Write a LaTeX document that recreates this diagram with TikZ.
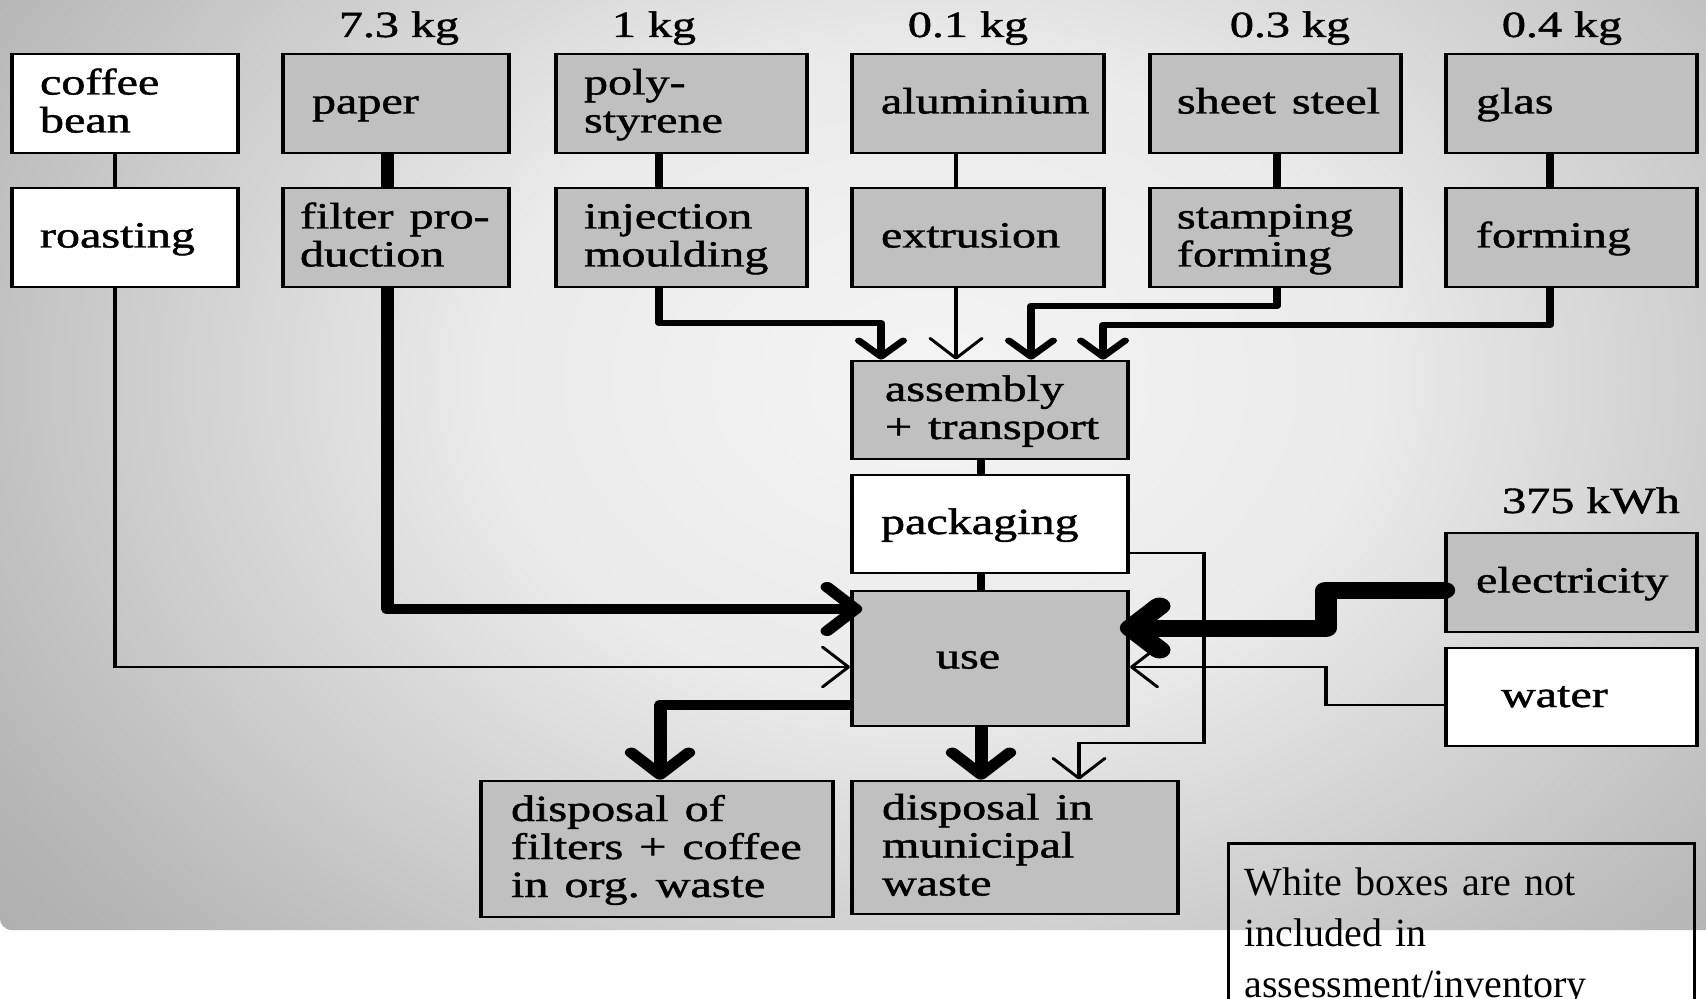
\documentclass[tikz,border=0pt]{standalone}
\usepackage{fontspec}
\usetikzlibrary{arrows.meta,calc}
\newfontfamily\dfont[HyphenChar=None, FakeBold=1.1]{Liberation Serif}
\newfontfamily\lfont{Liberation Serif}
\definecolor{boxgray}{HTML}{C0C0C0}
\definecolor{bgA}{HTML}{F4F4F4}
\definecolor{bgB}{HTML}{EBEBEB}
\definecolor{bgC}{HTML}{B4B4B4}
\definecolor{bgD}{HTML}{A0A0A0}
\pgfdeclareradialshading{bgshade}{\pgfpoint{0bp}{0bp}}{color(0bp)=(bgA); color(10bp)=(bgB); color(25bp)=(bgC); color(36bp)=(bgD); color(50bp)=(bgD)}
\newcommand\mystrut{\rule[-4.5pt]{0pt}{19pt}}
\tikzset{
  gbox/.style={draw=black, line width=1.4pt, fill=boxgray, align=left, inner ysep=0pt,
    font=\dfont\fontsize{18.5pt}{19pt}\selectfont,
    execute at begin node=\mystrut, execute at end node=\mystrut},
  wbox/.style={gbox, fill=white},
  sz/.style n args={4}{minimum width=#1, minimum height=#2, inner xsep=#3, text width=#4},
  lbl/.style={anchor=base, inner sep=0pt, font=\dfont\fontsize{18.5pt}{19pt}\selectfont},
  thinln/.style={line width=1.3pt},
  medln/.style={line width=3pt, line join=round},
  thickln/.style={line width=5pt, line join=round},
  thinarr/.style={thinln, -{Straight Barb[length=10pt,width=20pt,round]}},
  medarr/.style={medln, -{Straight Barb[length=8pt,width=17pt,round]}},
  thickarr/.style={thickln, -{Straight Barb[length=11pt,width=22pt,round]}},
  elecarr/.style={line width=8.5pt, line join=round, line cap=round, -{Straight Barb[length=11pt,width=22pt,round]}},
  legendbox/.style={draw=black, line width=1.5pt, anchor=north west, align=left,
    inner xsep=8pt, inner ysep=12pt, text width=217pt,
    font=\lfont\fontsize{20pt}{25.5pt}\selectfont}
}
\begin{document}
\begin{tikzpicture}[x=0.5pt, y=-0.5pt]
\useasboundingbox (0,0) rectangle (1706,999);
\fill[white] (0,0) rectangle (1706,999);
% background
\begin{scope}
  \clip (0,0) -- (1706,0) -- (1706,930) -- (12,930) arc[start angle=90, end angle=180, radius=12] -- cycle;
  \fill[bgD] (0,0) rectangle (1706,930);
  \shade[shading=bgshade] (-170,-420) rectangle (2030,1180);
\end{scope}
% legend (not stretched)
\node[legendbox] (legend) at (1227,842) {White boxes are not\\included in\\assessment/inventory};
% main diagram, horizontally stretched
\begin{scope}[transform canvas={xscale=1.3}, x=0.384615pt, y=-0.5pt]
  % row 1
  \node[wbox, sz={86.92pt}{49.5pt}{10.77pt}{65.38pt}] (coffee) at (125,103.5) {coffee\\bean};
  \node[gbox, sz={86.92pt}{49.5pt}{11.15pt}{64.62pt}] (paper) at (396,103.5) {paper};
  \node[gbox, sz={96.54pt}{49.5pt}{10.77pt}{75pt}] (poly) at (681.5,103.5) {poly-\\styrene};
  \node[gbox, sz={96.92pt}{49.5pt}{11.15pt}{74.62pt}] (alu) at (978,103.5) {aluminium};
  \node[gbox, sz={96.54pt}{49.5pt}{10.38pt}{75.78pt}] (steel) at (1275.5,103.5) {sheet~steel};
  \node[gbox, sz={96.54pt}{49.5pt}{11.54pt}{73.46pt}] (glas) at (1571.5,103.5) {glas};
  % row 2
  \node[wbox, sz={86.92pt}{49.5pt}{10.77pt}{65.38pt}] (roast) at (125,237.5) {roasting};
  \node[gbox, sz={86.92pt}{49.5pt}{6.54pt}{73.84pt}] (filter) at (396,237.5) {filter~pro-\\duction};
  \node[gbox, sz={96.54pt}{49.5pt}{10.77pt}{75pt}] (inj) at (681.5,237.5) {injection\\moulding};
  \node[gbox, sz={96.92pt}{49.5pt}{11.15pt}{74.62pt}] (extr) at (978,237.5) {extrusion};
  \node[gbox, sz={96.54pt}{49.5pt}{10.38pt}{75.78pt}] (stamp) at (1275.5,237.5) {stamping\\forming};
  \node[gbox, sz={96.54pt}{49.5pt}{11.54pt}{73.46pt}] (formg) at (1571.5,237.5) {forming};
  % middle column
  \node[gbox, sz={106.15pt}{49pt}{12.69pt}{80.77pt}] (asm) at (990,410) {assembly\\+~transport};
  \node[wbox, sz={106.15pt}{49pt}{11.15pt}{83.85pt}] (pack) at (990,524) {packaging};
  \node[gbox, sz={106.15pt}{67.5pt}{32.31pt}{41.53pt}] (use) at (990,658.5) {use};
  % right column
  \node[gbox, sz={96.54pt}{49.5pt}{11.54pt}{73.46pt}] (elec) at (1571.5,582.5) {electricity};
  \node[wbox, sz={96.54pt}{49pt}{21.15pt}{54.24pt}] (water) at (1571.5,697) {water};
  % bottom
  \node[gbox, sz={135.38pt}{68pt}{11.54pt}{112.3pt}] (dfil) at (657,849) {disposal~of\\filters~+~coffee\\in~org.~waste};
  \node[gbox, sz={125.38pt}{66.5pt}{11.54pt}{102.3pt}] (dmun) at (1015,847.5) {disposal~in\\municipal\\waste};
  % quantity labels
  \node[lbl] (kg1) at (399,37) {7.3 kg};
  \node[lbl] (kg2) at (654,37) {1 kg};
  \node[lbl] (kg3) at (968,37) {0.1 kg};
  \node[lbl] (kg4) at (1290,37) {0.3 kg};
  \node[lbl] (kg5) at (1562,37) {0.4 kg};
  \node[lbl] (kwh) at (1591,513) {375 kWh};
  % helper coordinates
  \coordinate (xa) at (115,0);
  \coordinate (xb) at (387,0);
  \coordinate (xc) at (659,0);
  \coordinate (xd) at (881,0);
  \coordinate (xe) at (956,0);
  \coordinate (xf) at (1277,0);
  \coordinate (xg) at (1031,0);
  \coordinate (xh) at (1550,0);
  \coordinate (xi) at (1103,0);
  \coordinate (xj) at (981,0);
  \coordinate (xk) at (660,0);
  \coordinate (xm) at (1204,0);
  \coordinate (xn) at (1079,0);
  \coordinate (xp) at (1326,0);
  \coordinate (ya) at (0,667);
  \coordinate (yb) at (0,609);
  \coordinate (yc) at (0,323);
  \coordinate (yf) at (0,306);
  \coordinate (yh) at (0,325);
  \coordinate (yk) at (0,705);
  \coordinate (yl) at (0,553);
  \coordinate (ym) at (0,743);
  \coordinate (yo) at (0,590);
  \coordinate (yp) at (0,628);
  \coordinate (yq) at (0,705);
  \coordinate (filterin) at ($(use.west |- yb)+(12,0)$);
  \coordinate (elecin) at ($(use.east |- yp)+(-10,0)$);
  % connectors
  \draw[thinln] (coffee.south -| xa) -- (roast.north -| xa);
  \draw[thinarr] (roast.south -| xa) |- (use.west |- ya);
  \draw[thickln] (paper.south -| xb) -- (filter.north -| xb);
  \draw[thickarr] (filter.south -| xb) |- (filterin);
  \draw[medln] (poly.south -| xc) -- (inj.north -| xc);
  \draw[medarr] (inj.south -| xc) |- (xd |- yc) -- (asm.north -| xd);
  \draw[thinln] (alu.south -| xe) -- (extr.north -| xe);
  \draw[thinarr] (extr.south -| xe) -- (asm.north -| xe);
  \draw[medln] (steel.south -| xf) -- (stamp.north -| xf);
  \draw[medarr] (stamp.south -| xf) |- (xg |- yf) -- (asm.north -| xg);
  \draw[medln] (glas.south -| xh) -- (formg.north -| xh);
  \draw[medarr] (formg.south -| xh) |- (xi |- yh) -- (asm.north -| xi);
  \draw[medln] (asm.south -| xj) -- (pack.north -| xj);
  \draw[medln] (pack.south -| xj) -- (use.north -| xj);
  \draw[thickarr] (use.south -| xj) -- (dmun.north -| xj);
  \draw[thickarr] (use.west |- yk) -| (dfil.north -| xk);
  \draw[thinarr] (pack.east |- yl) -| (xm |- ym) -| (dmun.north -| xn);
  \draw[thinarr] (water.west |- yq) -| (xp |- ya) -- (use.east |- ya);
  \draw[elecarr] (elec.west |- yo) -| (xp |- yp) -- (elecin);
\end{scope}
\end{tikzpicture}
\end{document}
